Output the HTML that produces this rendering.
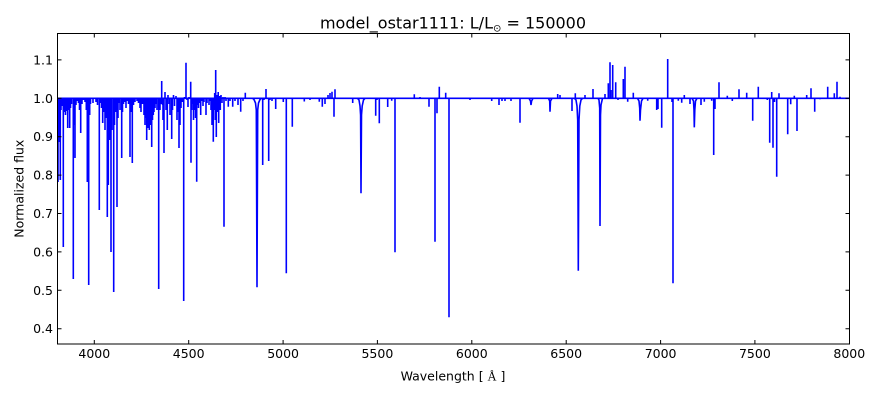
<!DOCTYPE html>
<html><head><meta charset="utf-8"><style>
html,body{margin:0;padding:0;background:#fff;}
svg{display:block;}
text{font-family:"DejaVu Sans","Liberation Sans",sans-serif;fill:#000;}
</style></head><body>
<svg width="880" height="400" viewBox="0 0 880 400" xmlns="http://www.w3.org/2000/svg">
<rect x="0" y="0" width="880" height="400" fill="#fff"/>
<defs><clipPath id="c"><rect x="57.5" y="33.5" width="792" height="310.5"/></clipPath></defs>
<g clip-path="url(#c)" fill="none" stroke="#0000ff" stroke-width="1.6" stroke-linejoin="miter">
<path d="M57.5 98.3H849.5"/>
<path d="M58 98.3V182M58.8 98.3V142M59.5 98.3V140M60.3 98.3V180M61 98.3V110M62 98.3V106M63.3 98.3V247M64.3 98.3V112M65.5 98.3V115M66.5 98.3V111M67.7 98.3V128M68.5 98.3V110M69.7 98.3V128M70.5 98.3V108M71.5 98.3V104M73.3 98.3V279M74.2 98.3V125M75 98.3V158M76 98.3V105M77.5 98.3V101M78.5 98.3V103M79.5 98.3V110M80.7 98.3V133M82 98.3V104M83.5 98.3V100M85 98.3V102M86.3 98.3V110M87.3 98.3V182M88.7 98.3V285M89.7 98.3V115M90.5 98.3V104M93 98.3V103M96 98.3V102M97.5 98.3V105M99.3 98.3V210M100.5 98.3V103M101.5 98.3V108M102.7 98.3V123M103.5 98.3V112M105 98.3V130M106 98.3V118M107.3 98.3V217M108.3 98.3V185M109.5 98.3V140M110.2 98.3V120M111 98.3V252M112 98.3V130M113.7 98.3V292M114.5 98.3V125M115.5 98.3V112M117 98.3V207M118 98.3V118M119 98.3V103M120 98.3V110M121.7 98.3V158M122.5 98.3V112M123.5 98.3V104M125 98.3V102M126 98.3V108M127 98.3V101M128.5 98.3V104M130 98.3V157M131 98.3V112M132.3 98.3V163M133.5 98.3V105M135 98.3V102M137 98.3V101M138.5 98.3V103M140 98.3V108M141 98.3V112M142.5 98.3V104M144 98.3V115M145 98.3V125M146 98.3V118M146.7 98.3V140M147.5 98.3V120M148.3 98.3V128M149.3 98.3V130M150 98.3V118M150.8 98.3V125M151.7 98.3V147M152.5 98.3V120M153.3 98.3V115M154 98.3V112M155 98.3V108M156 98.3V104M157 98.3V110M158.7 98.3V289M160 98.3V110M161 98.3V104M161.7 98.3V81M162.5 98.3V105M163 98.3V120M164 98.3V153M165 98.3V92M166 98.3V110M167.3 98.3V130M168 98.3V95M169 98.3V104M170 98.3V115M171.7 98.3V139M172.5 98.3V110M173.5 98.3V95M174.5 98.3V106M176 98.3V96M177 98.3V120M178 98.3V112M179 98.3V148M180 98.3V125M181 98.3V108M182.5 98.3V102M183.7 98.3V301M184.5 98.3V97M186 98.3V62.7M187 98.3V100M188 98.3V107M189 98.3V97M190.7 98.3V81.7M191 98.3V162.7M191.8 98.3V110M192.5 98.3V104M193.5 98.3V120M194.5 98.3V110M195.5 98.3V118M196.7 98.3V181.7M197.5 98.3V105M198.5 98.3V108M199.5 98.3V103M200.7 98.3V115M202 98.3V101M203 98.3V106M204 98.3V102M206 98.3V115M207 98.3V103M209 98.3V105M210 98.3V101M211 98.3V110M212 98.3V125M213.3 98.3V141.7M214 98.3V110M214.7 98.3V93M215.3 98.3V120M215.7 98.3V70M216.3 98.3V137M217 98.3V95M217.5 98.3V112M218.2 98.3V92M218.7 98.3V123M219.5 98.3V96M220.3 98.3V110M221 98.3V95M222 98.3V103M223 98.3V97M224 98.3V226.7M225 98.3V97M226 98.3V101M228.3 98.3V106.7M230 98.3V101M232.7 98.3V106.7M235 98.3V101M238 98.3V105M240.7 98.3V111.7M243 98.3V101M245.3 98.3V92.7M262.7 98.3V165M264 98.3V100M266 98.3V89M268.7 98.3V161M270 98.3V100M272 98.3V101M275.7 98.3V109M283.3 98.3V102M286.3 98.3V273.3M292.3 98.3V126.7M304.3 98.3V101.5M310 98.3V100M319.3 98.3V101.7M322.3 98.3V106.7M325 98.3V104M328 98.3V95M330 98.3V93M332 98.3V91.7M334 98.3V116.7M335 98.3V89.3M352.7 98.3V103M375.7 98.3V115.7M377 98.3V100M379.3 98.3V123.3M387.7 98.3V107M391.7 98.3V100.7M395 98.3V252.3M414.3 98.3V94.3M420 98.3V97M429 98.3V106.7M435 98.3V241.7M437 98.3V113.3M439.3 98.3V86.7M445.7 98.3V92.7M449 98.3V317.3M470 98.3V100M491.7 98.3V101M499 98.3V105M502 98.3V101M505 98.3V101M511 98.3V101M520 98.3V122.7M557.7 98.3V94M560 98.3V95M572 98.3V111M575.3 98.3V93.3M585 98.3V95M593 98.3V89M605 98.3V94M608.3 98.3V83.3M610 98.3V62.3M611 98.3V90M612.7 98.3V65M615.7 98.3V82.3M618 98.3V100M623.3 98.3V79M625 98.3V66.7M627.7 98.3V101.7M633.3 98.3V92.7M647.7 98.3V100.7M656.7 98.3V110M658 98.3V109M661.7 98.3V127.7M667.7 98.3V59M672 98.3V102M673 98.3V283.3M678.3 98.3V100.7M681.7 98.3V102.7M684.3 98.3V95M690 98.3V104M701 98.3V105M704.3 98.3V101.7M711.7 98.3V100.7M713.7 98.3V155M715 98.3V109M719 98.3V82.3M727.3 98.3V95.7M732.3 98.3V101M739 98.3V89.3M746.7 98.3V92.7M752.7 98.3V120.7M758.3 98.3V86.7M767.3 98.3V100M769.7 98.3V142.7M771.7 98.3V92M773 98.3V147.7M774.5 98.3V102M776.7 98.3V176.7M779 98.3V93.3M787.7 98.3V134.3M790.7 98.3V104.3M794.3 98.3V95.7M797 98.3V131M806.7 98.3V95M811 98.3V88.3M814.7 98.3V111.7M820 98.3V99.3M827.7 98.3V86.7M834.3 98.3V93.3M837 98.3V81.7M840 98.3V96.7"/>
<polyline points="252.5,98.3 254,99.5 255.5,103 256.3,110 257,287.3 257.7,110 258.5,103 260,99.5 261.5,98.3"/>
<polyline points="357.5,98.3 359,100 360,106 360.6,115 361,193.3 361.5,115 362.2,106 363.5,100 365,98.3"/>
<polyline points="574.5,98.3 576,100 577,106 577.7,120 578.3,270.7 579,120 579.8,106 581,100 582.5,98.3"/>
<polyline points="598,98.3 599,100 599.7,108 600,226 600.5,115 601,105 602.5,98.3"/>
<polyline points="637.5,98.3 639,101 639.7,108 640,120.7 640.5,110 641.5,101 643,98.3"/>
<polyline points="692,98.3 693.5,101 694,110 694.3,127.3 694.8,110 695.5,101 697,98.3"/>
<polyline points="529,98.3 530.5,101 531,105 531.6,101 533,98.3"/>
<polyline points="548.5,98.3 549.7,101 550,111.7 550.5,101 552,98.3"/>
</g>
<rect x="57.5" y="33.5" width="792" height="310.5" fill="none" stroke="#000" stroke-width="1"/>
<g stroke="#000" stroke-width="1">
<path d="M94.3 344V340M188.7 344V340M283.1 344V340M377.4 344V340M471.8 344V340M566.2 344V340M660.6 344V340M754.9 344V340"/>
<path d="M94.3 33.5V37.5M188.7 33.5V37.5M283.1 33.5V37.5M377.4 33.5V37.5M471.8 33.5V37.5M566.2 33.5V37.5M660.6 33.5V37.5M754.9 33.5V37.5"/>
<path d="M57.5 59.9H61.5M57.5 98.3H61.5M57.5 136.7H61.5M57.5 175.1H61.5M57.5 213.5H61.5M57.5 251.9H61.5M57.5 290.3H61.5M57.5 328.7H61.5"/>
<path d="M849.5 59.9H845.5M849.5 98.3H845.5M849.5 136.7H845.5M849.5 175.1H845.5M849.5 213.5H845.5M849.5 251.9H845.5M849.5 290.3H845.5M849.5 328.7H845.5"/>
</g>
<g font-size="12.5" text-anchor="middle">
<text x="94.3" y="357.8">4000</text>
<text x="188.7" y="357.8">4500</text>
<text x="283.1" y="357.8">5000</text>
<text x="377.4" y="357.8">5500</text>
<text x="471.8" y="357.8">6000</text>
<text x="566.2" y="357.8">6500</text>
<text x="660.6" y="357.8">7000</text>
<text x="754.9" y="357.8">7500</text>
<text x="849.3" y="357.8">8000</text>
</g>
<g font-size="12.5" text-anchor="end">
<text x="53" y="64.4">1.1</text>
<text x="53" y="102.8">1.0</text>
<text x="53" y="141.2">0.9</text>
<text x="53" y="179.6">0.8</text>
<text x="53" y="218">0.7</text>
<text x="53" y="256.4">0.6</text>
<text x="53" y="294.8">0.5</text>
<text x="53" y="333.2">0.4</text>
</g>
<text x="453" y="28.3" font-size="16" text-anchor="middle">model_ostar1111: L/L<tspan font-size="10" dy="3">⊙</tspan><tspan dy="-3"> = 150000</tspan></text>
<text x="453" y="380.5" font-size="12.5" text-anchor="middle">Wavelength [ <tspan font-family="Liberation Serif, serif">Å</tspan> ]</text>
<text transform="translate(23.7,188.7) rotate(-90)" font-size="12.5" text-anchor="middle">Normalized flux</text>
</svg>
</body></html>
